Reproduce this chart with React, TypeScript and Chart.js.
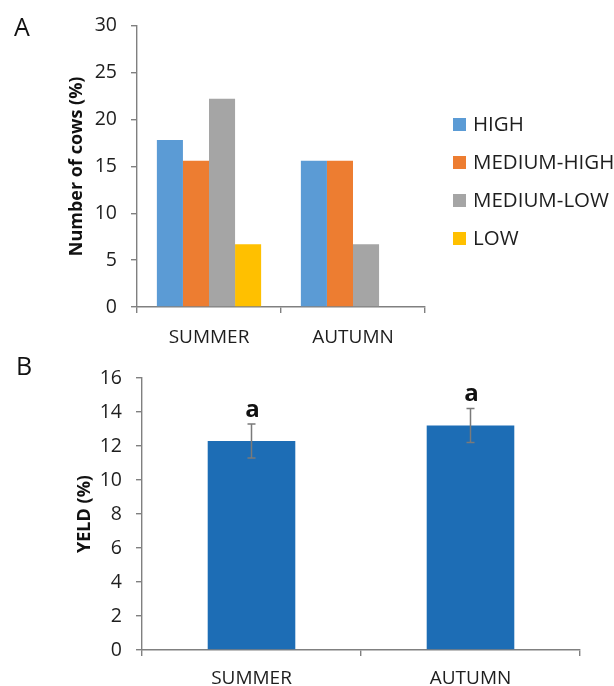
import React, { useEffect, useRef } from "react";
import { Chart, registerables } from "chart.js";

Chart.register(...registerables);

// ---------- Panel A data ----------
const seasons = ["SUMMER", "AUTUMN"];
const groupLabels = ["HIGH", "MEDIUM-HIGH", "MEDIUM-LOW", "LOW"];
const highValues = [17.8, 15.6];
const mediumHighValues = [15.6, 15.6];
const mediumLowValues = [22.2, 6.7];
const lowValues = [6.7, 0];
const groupColors = ["#5B9BD5", "#ED7D31", "#A5A5A5", "#FFC000"];
const cowAxisMax = 30;
const cowAxisStep = 5;

// ---------- Panel B data ----------
const yieldSeasons = ["SUMMER", "AUTUMN"];
const yieldValues = [12.3, 13.2];
const yieldErrors = [1.0, 1.0];
const yieldLetters = ["a", "a"];
const yieldAxisMax = 16;
const yieldAxisStep = 2;

const FAMILY = "'Open Sans', sans-serif";
const TEXT = "#1e1e1e";
const AXIS = "#808080";

const panelLabelPlugin = (letter: string, x: number, y: number) => ({
  id: "panelLabel" + letter,
  afterDraw(chart: any) {
    const ctx = chart.ctx;
    ctx.save();
    ctx.font = `25px ${FAMILY}`;
    ctx.fillStyle = "#111";
    ctx.textBaseline = "alphabetic";
    ctx.textAlign = "left";
    ctx.fillText(letter, x, y);
    ctx.restore();
  },
});

const customLegendPlugin = {
  id: "customLegend",
  afterDraw(chart: any) {
    const ctx = chart.ctx;
    ctx.save();
    ctx.font = `20.5px ${FAMILY}`;
    ctx.textBaseline = "middle";
    ctx.textAlign = "left";
    chart.data.datasets.forEach((ds: any, i: number) => {
      const cy = 124.5 + i * 38;
      ctx.fillStyle = ds.backgroundColor;
      ctx.fillRect(453, cy - 6.5, 13, 13);
      ctx.fillStyle = TEXT;
      ctx.fillText(ds.label, 473, cy + 1);
    });
    ctx.restore();
  },
};

const errorBarPlugin = {
  id: "errorBars",
  afterDatasetsDraw(chart: any) {
    const ctx = chart.ctx;
    const meta = chart.getDatasetMeta(0);
    const y = chart.scales.y;
    ctx.save();
    meta.data.forEach((bar: any, i: number) => {
      const v = yieldValues[i];
      const e = yieldErrors[i];
      const yt = y.getPixelForValue(v + e);
      const yb = y.getPixelForValue(v - e);
      const x = bar.x;
      ctx.strokeStyle = "#7a7a7a";
      ctx.lineWidth = 1.5;
      ctx.beginPath();
      ctx.moveTo(x, yt);
      ctx.lineTo(x, yb);
      ctx.moveTo(x - 4, yt);
      ctx.lineTo(x + 4, yt);
      ctx.moveTo(x - 4, yb);
      ctx.lineTo(x + 4, yb);
      ctx.stroke();
      ctx.font = `bold 24px ${FAMILY}`;
      ctx.fillStyle = "#111";
      ctx.textAlign = "center";
      ctx.textBaseline = "middle";
      ctx.fillText(yieldLetters[i], x + 1, yt - 14);
    });
    ctx.restore();
  },
};

export default function App() {
  const refA = useRef<HTMLCanvasElement | null>(null);
  const refB = useRef<HTMLCanvasElement | null>(null);

  useEffect(() => {
    const seriesA = [highValues, mediumHighValues, mediumLowValues, lowValues];
    const chartA = new Chart(refA.current as HTMLCanvasElement, {
      type: "bar",
      data: {
        labels: seasons,
        datasets: groupLabels.map((label, i) => ({
          label,
          data: seriesA[i],
          backgroundColor: groupColors[i],
          borderWidth: 0,
          barPercentage: 1,
          categoryPercentage: 0.724,
        })),
      },
      options: {
        responsive: false,
        animation: false,
        devicePixelRatio: 1,
        layout: { padding: { left: 0, right: 189, top: 24, bottom: 0 } },
        plugins: { legend: { display: false }, tooltip: { enabled: false } },
        scales: {
          x: {
            grid: { offset: true, drawOnChartArea: false, tickLength: 6, color: AXIS, lineWidth: 1.4 },
            border: { color: AXIS, width: 1.4 },
            ticks: { padding: 13, font: { size: 19, family: FAMILY }, color: TEXT },
            afterFit: (s: any) => {
              s.height = 38;
            },
          },
          y: {
            min: 0,
            max: cowAxisMax,
            ticks: { stepSize: cowAxisStep, padding: 14, font: { size: 19.5, family: FAMILY }, color: TEXT },
            grid: { drawOnChartArea: false, tickLength: 6, color: AXIS, lineWidth: 1.4 },
            border: { color: AXIS, width: 1.4 },
            title: {
              display: true,
              text: "Number of cows (%)",
              font: { size: 18, weight: "bold", family: FAMILY },
              color: "#111",
              padding: { top: 66, bottom: 0 },
            },
            afterFit: (s: any) => {
              s.width = 137;
            },
          },
        },
      } as any,
      plugins: [customLegendPlugin, panelLabelPlugin("A", 14, 36)],
    });

    const chartB = new Chart(refB.current as HTMLCanvasElement, {
      type: "bar",
      data: {
        labels: yieldSeasons,
        datasets: [
          {
            label: "YELD",
            data: yieldValues,
            backgroundColor: "#1D6DB5",
            borderWidth: 0,
            barPercentage: 0.4,
            categoryPercentage: 1,
          },
        ],
      },
      options: {
        responsive: false,
        animation: false,
        devicePixelRatio: 1,
        layout: { padding: { left: 0, right: 34, top: 33, bottom: 0 } },
        plugins: { legend: { display: false }, tooltip: { enabled: false } },
        scales: {
          x: {
            grid: { offset: true, drawOnChartArea: false, tickLength: 6, color: AXIS, lineWidth: 1.4 },
            border: { color: AXIS, width: 1.4 },
            ticks: { padding: 11, font: { size: 19, family: FAMILY }, color: TEXT },
            afterFit: (s: any) => {
              s.height = 36;
            },
          },
          y: {
            min: 0,
            max: yieldAxisMax,
            ticks: { stepSize: yieldAxisStep, padding: 14, font: { size: 19.5, family: FAMILY }, color: TEXT },
            grid: { drawOnChartArea: false, tickLength: 6, color: AXIS, lineWidth: 1.4 },
            border: { color: AXIS, width: 1.4 },
            title: {
              display: true,
              text: "YELD (%)",
              font: { size: 18, weight: "bold", family: FAMILY },
              color: "#111",
              padding: { top: 74, bottom: 0 },
            },
            afterFit: (s: any) => {
              s.width = 142;
            },
          },
        },
      } as any,
      plugins: [errorBarPlugin, panelLabelPlugin("B", 16, 30)],
    });

    return () => {
      chartA.destroy();
      chartB.destroy();
    };
  }, []);

  return (
    <div style={{ position: "absolute", left: 0, top: 0, width: 614, height: 686, background: "#fff" }}>
      <canvas ref={refA} width={614} height={345} style={{ position: "absolute", left: 0, top: 0 }} />
      <canvas ref={refB} width={614} height={341} style={{ position: "absolute", left: 0, top: 345 }} />
    </div>
  );
}
